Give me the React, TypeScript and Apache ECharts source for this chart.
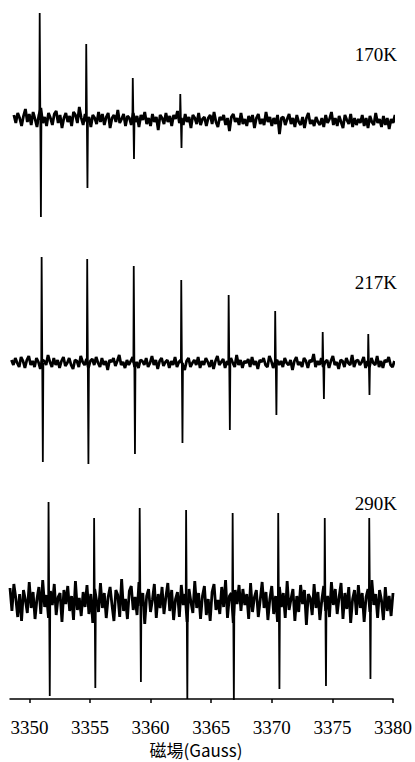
import React, { useEffect, useRef } from "react";
import * as echarts from "echarts";

// ---- data ----
const TEMPS = ["170K", "217K", "290K"];
const TICKS = [3350, 3355, 3360, 3365, 3370, 3375, 3380];

// sweep start (Gauss) and sampling step for the recorded traces
const SWEEP_START = [3348.72, 3348.52, 3348.4];
const SWEEP_STEP = 0.1588;

// hyperfine lines: position (G), positive lobe, negative lobe (arb. units)
const LINES_170_POS = [3350.85, 3354.69, 3358.53, 3362.45];
const LINES_170_UP = [107, 76, 42, 26];
const LINES_170_DOWN = [97, 68, 39, 28];

const LINES_217_POS = [3351.01, 3354.77, 3358.61, 3362.53, 3366.44, 3370.28, 3374.2, 3377.96];
const LINES_217_UP = [106, 104, 97, 83, 68, 52, 31, 29];
const LINES_217_DOWN = [99, 101, 91, 80, 67, 52, 36, 32];

const LINES_290_POS = [3351.58, 3355.34, 3359.1, 3362.93, 3366.77, 3370.53, 3374.37, 3378.04];
const LINES_290_UP = [100, 84, 94, 92, 89, 89, 84, 84];
const LINES_290_DOWN = [94, 86, 80, 97, 98, 87, 84, 77];

// baseline noise (arb. units)
const NOISE_170 = [
  5, -3, 7, 2, -6, 4, 11, -2, 6, -5, 8, 1, -7, 5, 12, -3, 3, -6, 7, 2,
  -5, 6, 9, -3, 5, -8, 2, 7, -2, 4, -6, 8, 5, -3, 13, 2, -5, 6, -2, 3,
  -7, 5, 2, -4, 8, -2, 6, -5, 3, 7, -8, 2, 5, -2, 10, -3, 1, 6, -6, 4,
  2, -5, 7, -2, 4, -7, 5, 0, 8, -4, 2, -6, 6, -2, 3, -10, 5, 2, -4, 7,
  -2, 4, -6, 5, 1, 9, -3, 2, -5, 6, -2, 3, -8, 5, 2, -4, 7, -5, 1, 3,
  -6, 2, 5, -4, 8, -2, -7, 3, 0, 5, -5, 2, -11, 3, 6, -2, 2, -5, 7, -4,
  1, -6, 4, -2, 5, -8, 2, 6, -4, 1, -5, 8, -2, 3, -6, 2, -4, 5, -14, 2,
  3, -5, 1, 6, -4, 2, -7, 5, -2, -5, 3, -8, 2, 7, -4, 0, -6, 3, -2, -5,
  2, -7, 5, -3, 1, 8, -5, 2, -6, 4, -2, -8, 5, 0, -4, 6, -7, 2, -5, 1,
  -3, 5, -6, 2, -8, 4, -2, -5, 7, -3, 1, -7, 4, -5, 2, -9, 1, -3, 5, -6,
];
const NOISE_217 = [
  3, -2, 5, 0, -4, 6, 2, -5, 3, 7, -2, 2, -4, 5, 1, -6, 3, 2, -2, 8,
  1, -4, 5, -2, 3, -5, 2, 6, -3, 0, 5, -2, -6, 3, 2, -4, 7, 1, -2, 4,
  -5, 2, 4, -2, 6, 0, -4, 5, -2, 2, -7, 3, 1, 5, -3, 2, 8, -2, 1, -5,
  3, -2, 2, 6, -4, 1, -5, 3, 2, -2, 5, -4, 0, 7, -2, 3, -6, 2, 5, -3,
  1, 3, -5, 2, -2, 6, -4, 1, 3, -2, -7, 2, 5, -4, 0, 3, -2, 6, -5, 2,
  -2, 5, 1, -4, 3, -6, 2, 7, -2, 1, 4, -5, 2, -2, 5, 0, -4, 8, -2, 3,
  -5, 2, 0, 4, -4, 6, -2, 2, -6, 3, 1, 5, -2, -4, 7, 2, -5, 1, 3, -2,
  2, -4, 5, 0, -2, 3, -7, 2, 6, -2, 1, -4, 5, 2, -5, 3, 1, 9, -4, 2,
  -2, 5, -4, 1, 3, -5, 2, 7, -2, 1, -6, 3, 2, -4, 5, 0, -2, 8, -4, 2,
  3, -2, 1, 6, -5, 2, -4, 5, 0, -2, 7, -4, 2, -5, 3, 1, 6, -2, -4, 2,
];
const NOISE_290 = [
  14, -9, 18, 4, -15, 8, -19, 12, 2, -11, 20, -6, 10, -17, 3, 15, -12, 22, -5, 7,
  -16, 11, -3, 18, -13, 5, 9, -20, 12, -2, 16, -9, 6, -18, 21, -8, 4, -14, 10, -5,
  17, -12, 8, -21, 13, 1, -10, 19, -6, 9, -16, 5, 15, -3, -19, 12, 7, -15, 23, -9,
  3, -17, 11, 16, -8, 5, -13, 20, -4, 9, -22, 6, 13, -10, 2, 18, -16, 8, -6, 15,
  -12, 5, 19, -9, 12, -18, 3, 10, -15, 17, -3, 8, -20, 13, 0, -11, 21, -6, 9, -17,
  6, 16, -13, 3, -19, 10, 18, -8, 2, -12, 15, -5, 22, -16, 6, 9, -21, 12, -2, 17,
  -9, 13, -3, 8, -17, 19, -10, 5, 12, -15, 2, 20, -6, 10, -18, 3, 16, -12, 6, -20,
  15, -5, 9, -16, 21, -8, 3, 13, -19, 6, -10, 17, -2, 12, -23, 8, 4, -13, 18, -6,
  10, -18, 2, 16, -9, 6, -15, 20, -3, 13, -12, 5, 19, -17, 9, -7, 15, -21, 3, 12,
  -13, 17, -6, 9, -20, 5, 13, -10, 22, -3, 8, -16, 12, 2, -18, 15, -9, 6, -14, 9,
];

// vertical stacking offsets of the three spectra (layout)
const OFFSETS = [579, 336, 97];

function buildNoise(start: number, noise: number[], offset: number) {
  return noise.map((v, i) => [start + i * SWEEP_STEP, offset + v]);
}

function buildLines(pos: number[], up: number[], down: number[], offset: number) {
  const pts: (number | string)[][] = [];
  pos.forEach((p, k) => {
    pts.push([p - 0.03, offset]);
    pts.push([p, offset + up[k]]);
    pts.push([p + 0.1, offset - down[k]]);
    pts.push([p + 0.14, offset]);
    pts.push([p + 0.15, "-"]);
  });
  return pts;
}

const SERIF = "Liberation Serif";

export default function App() {
  const ref = useRef<HTMLDivElement>(null);
  useEffect(() => {
    if (!ref.current) return;
    const chart = echarts.init(ref.current, undefined, { renderer: "svg" });
    const noiseTraces = [
      buildNoise(SWEEP_START[0], NOISE_170, OFFSETS[0]),
      buildNoise(SWEEP_START[1], NOISE_217, OFFSETS[1]),
      buildNoise(SWEEP_START[2], NOISE_290, OFFSETS[2]),
    ];
    const lineTraces = [
      buildLines(LINES_170_POS, LINES_170_UP, LINES_170_DOWN, OFFSETS[0]),
      buildLines(LINES_217_POS, LINES_217_UP, LINES_217_DOWN, OFFSETS[1]),
      buildLines(LINES_290_POS, LINES_290_UP, LINES_290_DOWN, OFFSETS[2]),
    ];
    chart.setOption({
      animation: false,
      backgroundColor: "#ffffff",
      textStyle: { fontFamily: SERIF },
      grid: { left: 10, right: 18, top: 0, bottom: 63 },
      xAxis: {
        type: "value",
        min: 3348.4,
        max: 3380,
        axisLine: { show: true, lineStyle: { color: "#000", width: 1.5 } },
        axisTick: {
          show: true,
          length: 4,
          lineStyle: { color: "#000", width: 1.5 },
          customValues: TICKS,
        },
        axisLabel: {
          customValues: TICKS,
          color: "#000",
          fontFamily: SERIF,
          fontSize: 19,
          margin: 19,
          formatter: (v: number) => String(v),
        },
        splitLine: { show: false },
      },
      yAxis: {
        type: "value",
        min: 0,
        max: 699,
        show: false,
      },
      graphic: [
        ...TEMPS.map((t, i) => ({
          type: "text",
          right: 18,
          top: [45, 273, 494][i],
          style: { text: t, fill: "#000", fontFamily: SERIF, fontSize: 19 },
        })),
        {
          type: "text",
          x: 196,
          y: 749,
          style: {
            text: "磁場(Gauss)",
            fill: "#000",
            fontFamily: "Noto Sans CJK TC",
            fontSize: 17,
            textAlign: "center",
            textVerticalAlign: "middle",
          },
        },
      ],
      series: [
        ...noiseTraces.map((data, i) => ({
          name: TEMPS[i],
          type: "line",
          data,
          showSymbol: false,
          symbol: "none",
          clip: false,
          lineStyle: { color: "#000", width: 2.8 },
        })),
        ...lineTraces.map((data, i) => ({
          name: TEMPS[i] + " lines",
          type: "line",
          data,
          showSymbol: false,
          symbol: "none",
          clip: false,
          connectNulls: false,
          lineStyle: { color: "#000", width: 1.8 },
        })),
      ],
    });
    return () => chart.dispose();
  }, []);
  return (
    <div
      ref={ref}
      style={{ position: "fixed", left: 0, top: 0, width: 415, height: 762 }}
    />
  );
}
